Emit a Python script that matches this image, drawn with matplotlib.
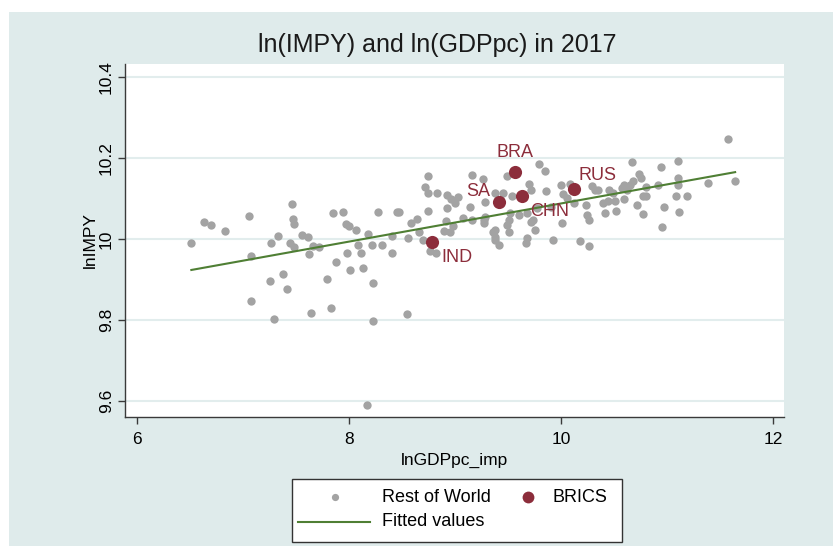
import numpy as np
import matplotlib
matplotlib.use("Agg")
import matplotlib.pyplot as plt
from matplotlib.patches import Rectangle
from matplotlib.lines import Line2D

plt.rcParams['font.family'] = ['Liberation Sans', 'DejaVu Sans']

# ---- data: rest of world (lnGDPpc_imp, lnIMPY) ----
row_x = [6.51, 6.63, 6.70, 6.83, 7.05, 7.07, 7.07, 7.25, 7.26, 7.33, 7.37, 7.41, 7.29,
         7.46, 7.47, 7.48, 7.44, 7.48, 7.55, 7.61, 7.62, 7.66, 7.71, 7.79, 7.87, 7.85,
         7.64, 7.83, 8.22, 8.54, 8.17, 8.01, 8.13, 8.22, 7.98, 8.11, 8.40, 8.21, 8.31,
         8.08, 8.55, 8.76, 8.82, 7.94, 7.97, 8.00, 8.06, 8.18, 8.27, 8.40, 8.45, 8.47,
         8.58, 8.64, 8.66, 8.71, 8.745, 8.74, 8.83, 8.74, 8.70, 8.89, 8.95, 8.91, 8.92,
         8.925, 8.96, 9.00, 9.03, 9.14, 9.075, 9.16, 9.155, 9.26, 9.27, 9.28, 9.49, 9.535,
         9.70, 9.71, 9.86, 9.79, 9.85, 10.00, 10.02, 9.77, 9.485, 9.51, 9.71, 9.75, 9.68,
         9.67, 9.36, 9.37, 9.415, 9.92, 10.01, 10.23, 10.24, 10.26, 10.18, 10.26, 10.41,
         10.44, 10.51, 10.52, 10.35, 10.485, 10.59, 10.62,
         11.57, 11.64, 11.38, 11.10, 11.10, 11.10, 11.08, 11.19, 11.11, 10.97, 10.95,
         10.94, 10.91, 10.77, 10.71, 10.80, 10.77, 10.80, 10.665, 10.73, 10.75, 10.68,
         10.65, 10.59, 10.57,
         10.05, 10.08, 9.68, 9.736, 9.515, 9.51, 9.453, 9.374, 9.374, 9.374, 9.27, 9.28,
         8.975, 10.29, 10.39, 10.32, 9.60, 9.90, 10.12, 10.45]
row_y = [9.991, 10.041, 10.035, 10.020, 10.057, 9.958, 9.848, 9.896, 9.989, 10.008, 9.914,
         9.877, 9.802, 10.087, 10.049, 10.036, 9.989, 9.981, 10.011, 10.006, 9.964, 9.983,
         9.979, 9.902, 9.942, 10.063, 9.818, 9.829, 9.797, 9.814, 9.590, 9.923, 9.929,
         9.891, 9.965, 9.965, 9.966, 9.984, 9.984, 9.986, 10.002, 9.971, 9.965, 10.067,
         10.037, 10.033, 10.021, 10.012, 10.067, 10.007, 10.066, 10.066, 10.039, 10.049,
         10.017, 10.129, 10.156, 10.113, 10.113, 10.069, 9.998, 10.020, 10.017, 10.045,
         10.076, 10.109, 10.098, 10.088, 10.104, 10.078, 10.051, 10.048, 10.158, 10.148,
         10.047, 10.092, 10.156, 10.107, 10.135, 10.121, 10.119, 10.184, 10.169, 10.133,
         10.110, 10.077, 10.035, 10.018, 10.043, 10.022, 10.002, 9.990, 10.017, 9.998,
         9.984, 9.998, 10.039, 10.084, 10.058, 10.047, 9.995, 9.983, 10.064, 10.094,
         10.094, 10.069, 10.121, 10.113, 10.133, 10.121,
         10.246, 10.144, 10.138, 10.193, 10.151, 10.133, 10.105, 10.105, 10.066, 10.080,
         10.029, 10.178, 10.133, 10.062, 10.084, 10.107, 10.105, 10.129, 10.189, 10.160,
         10.150, 10.142, 10.133, 10.099, 10.125,
         10.100, 10.135, 10.063, 10.047, 10.063, 10.047, 10.113, 10.113, 10.022, 10.006,
         10.039, 10.055, 10.032, 10.130, 10.088, 10.120, 10.060, 10.080, 10.090, 10.120]

# ---- data: BRICS ----
brics_names = ["BRA", "SA", "CHN", "RUS", "IND"]
brics_x = [9.563, 9.415, 9.632, 10.12, 8.78]
brics_y = [10.166, 10.091, 10.107, 10.123, 9.993]

# fitted line
fit_x = [6.51, 11.64]
fit_y = [9.9235, 10.165]

yticks = [9.6, 9.8, 10.0, 10.2, 10.4]
ytick_labels = ["9.6", "9.8", "10", "10.2", "10.4"]
xticks = [6, 8, 10, 12]
xtick_labels = ["6", "8", "10", "12"]

W, H = 833, 546
BG = '#dfebeb'
GRAY = '#a3a3a3'
RED = '#8c2d3b'
GREEN = '#4f7f34'

fig = plt.figure(figsize=(W / 100, H / 100), dpi=100)
fig.patch.set_facecolor('white')
fig.patches.append(Rectangle((9 / W, 0), 1 - 9 / W, 1 - 12 / H, transform=fig.transFigure,
                             facecolor=BG, edgecolor='none', zorder=-10))

L, R, T, B = 125, 784, 64, 417
ax = fig.add_axes([L / W, 1 - B / H, (R - L) / W, (B - T) / H])
ax.set_facecolor('white')
ax.set_xlim(5.884, 12.101)
ax.set_ylim(9.5605, 10.432)

for s in ['top', 'right']:
    ax.spines[s].set_visible(False)
for s in ['left', 'bottom']:
    ax.spines[s].set_color('#3a3a3a')
    ax.spines[s].set_linewidth(1.0)

ax.set_yticks(yticks)
ax.set_yticklabels(ytick_labels, rotation=90, va='center', fontsize=12.5)
ax.set_xticks(xticks)
ax.set_xticklabels(xtick_labels, fontsize=12.5)
ax.tick_params(axis='both', direction='out', length=5, width=1.0, color='#3a3a3a')
ax.tick_params(axis='x', pad=6)
ax.tick_params(axis='y', pad=3)
ax.yaxis.grid(True, color='#e2eded', linewidth=1.5)
ax.set_axisbelow(True)

ax.scatter(row_x, row_y, s=36, color=GRAY, linewidths=0, zorder=3)
ax.plot(fit_x, fit_y, color=GREEN, linewidth=1.5, zorder=4)
ax.scatter(brics_x, brics_y, s=90, color=RED, linewidths=0, zorder=5)

# label offsets in points (Stata clock positions)
offs = {"BRA": (0, 8, 'center', 'bottom'), "SA": (-6.5, 8, 'right', 'center'),
        "CHN": (5.5, -11.5, 'left', 'center'), "RUS": (3, 9.5, 'left', 'center'),
        "IND": (6.5, -11.5, 'left', 'center')}
for n, x, y in zip(brics_names, brics_x, brics_y):
    dx, dy, ha, va = offs[n]
    ax.annotate(n, (x, y), xytext=(dx, dy), textcoords='offset points', ha=ha, va=va,
                fontsize=13, color=RED, zorder=6)

ax.set_xlabel("lnGDPpc_imp", fontsize=12.5, labelpad=4)
ax.set_ylabel("lnIMPY", fontsize=12.5, labelpad=1)

fig.text(437 / W, 1 - 45 / H, "ln(IMPY) and ln(GDPpc) in 2017", ha='center', va='center',
         fontsize=18, color='#1a1a1a')

# legend (manual, Stata-style)
lx0, ly0, lx1, ly1 = 292, 479, 622, 542
fig.patches.append(Rectangle((lx0 / W, 1 - ly1 / H), (lx1 - lx0) / W, (ly1 - ly0) / H,
                             transform=fig.transFigure, facecolor='white',
                             edgecolor='#333333', linewidth=1.0, zorder=1))
r1, r2 = 497, 522
fig.lines.append(Line2D([335 / W], [1 - r1 / H], marker='o', markersize=5.2, color=GRAY,
                        markeredgewidth=0, transform=fig.transFigure, zorder=2))
fig.lines.append(Line2D([528 / W], [1 - r1 / H], marker='o', markersize=8.5, color=RED,
                        markeredgewidth=0, transform=fig.transFigure, zorder=2))
fig.lines.append(Line2D([298 / W, 370 / W], [1 - r2 / H, 1 - r2 / H], color=GREEN,
                        linewidth=1.5, transform=fig.transFigure, zorder=2))
fig.text(382 / W, 1 - r1 / H, "Rest of World", fontsize=13, va='center', ha='left', zorder=3)
fig.text(552 / W, 1 - r1 / H, "BRICS", fontsize=13, va='center', ha='left', zorder=3)
fig.text(382 / W, 1 - r2 / H, "Fitted values", fontsize=13, va='center', ha='left', zorder=3)

fig.savefig("out.png", dpi=100, facecolor=fig.get_facecolor())
